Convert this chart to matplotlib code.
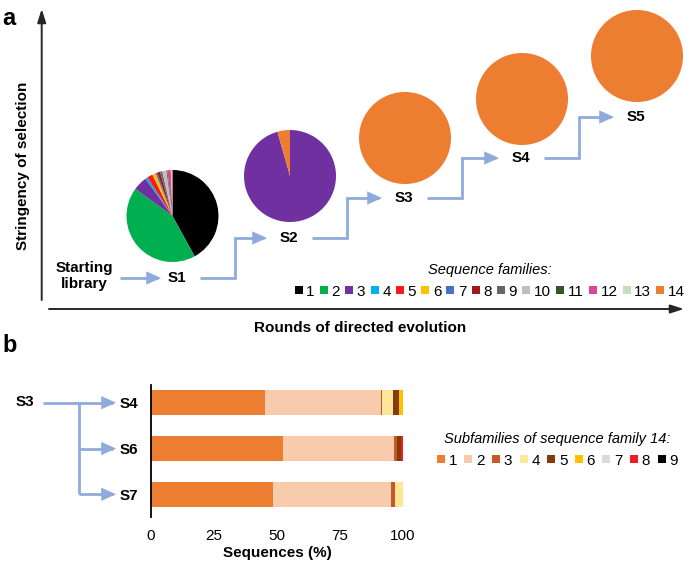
import matplotlib
matplotlib.use('Agg')
import matplotlib.pyplot as plt
from matplotlib.patches import FancyArrowPatch
from matplotlib.path import Path
from matplotlib.lines import Line2D

plt.rcParams['font.family'] = ['Liberation Sans', 'DejaVu Sans']

W, H = 685, 566

# ---------------- data ----------------
family_labels = ['1', '2', '3', '4', '5', '6', '7', '8', '9', '10', '11', '12', '13', '14']
family_colors = ['#000000', '#00B050', '#7030A0', '#00B0F0', '#FF1A1A', '#FFC000', '#4472C4',
                 '#A0181C', '#666666', '#BFBFBF', '#375623', '#D9449C', '#C5E0B4', '#ED7D31']
stage_names = ['S1', 'S2', 'S3', 'S4', 'S5']
s1_share = [42.0, 43.0, 5.0, 0.8, 2.0, 1.2, 0.6, 1.0, 0.8, 1.5, 0.3, 1.2, 0.3, 0.3]
s2_share = [0, 0, 95.6, 0, 0, 0, 0, 0, 0, 0, 0, 0, 0, 4.4]
s3_share = [0, 0, 0, 0, 0, 0, 0, 0, 0, 0, 0, 0, 0, 100]
s4_share = [0, 0, 0, 0, 0, 0, 0, 0, 0, 0, 0, 0, 0, 100]
s5_share = [0, 0, 0, 0, 0, 0, 0, 0, 0, 0, 0, 0, 0, 100]

bar_rows = ['S4', 'S6', 'S7']
sub_labels = ['1', '2', '3', '4', '5', '6', '7', '8', '9']
sub_colors = ['#ED7D31', '#F8CBAD', '#C55A28', '#FFE699', '#843C0C', '#FFC000', '#D9D9D9', '#EE1C25', '#000000']
sub1 = [45.4, 52.4, 48.3]
sub2 = [45.7, 44.2, 46.9]
sub3 = [0.7, 0.9, 1.7]
sub4 = [4.4, 0.0, 3.1]
sub5 = [2.3, 1.8, 0.0]
sub6 = [1.5, 0.0, 0.0]
sub7 = [0.0, 0.0, 0.0]
sub8 = [0.0, 0.7, 0.0]
sub9 = [0.0, 0.0, 0.0]
x_ticks = [0, 25, 50, 75, 100]

# ---------------- layout ----------------
fig = plt.figure(figsize=(W / 100, H / 100), dpi=100)
ax0 = fig.add_axes([0, 0, 1, 1])

def Y(py):
    return H - py

BLUE = '#8FAADC'
AXC = '#262626'

pie_centers = [(172.5, 216), (290, 176), (405, 138), (522, 99), (637, 56)]
label_pos = [(177, 278), (289, 238), (404, 198), (521, 158), (636, 117)]
shares = [s1_share, s2_share, s3_share, s4_share, s5_share]

for vals, (cx, cy) in zip(shares, pie_centers):
    ax0.pie(vals, colors=family_colors, startangle=90, counterclock=False,
            center=(cx, Y(cy)), radius=46, wedgeprops=dict(linewidth=0), frame=True)

for name, (lx, ly) in zip(stage_names, label_pos):
    ax0.text(lx, Y(ly), name, ha='center', va='center', fontsize=11, fontweight='bold')

ax0.text(84, Y(276), 'Starting\nlibrary', ha='center', va='center', fontsize=11,
         fontweight='bold', linespacing=1.1)

def blue_arrow(pts):
    p = Path([(x, Y(y)) for x, y in pts])
    a = FancyArrowPatch(path=p, arrowstyle='-|>,head_length=0.4,head_width=0.18',
                        mutation_scale=18, lw=2.0, color=BLUE, joinstyle='miter',
                        capstyle='butt')
    ax0.add_patch(a)

blue_arrow([(120, 278), (161, 278)])
for i in range(4):
    lx, ly = label_pos[i]
    nx, ny = label_pos[i + 1]
    blue_arrow([(lx + 23, ly), (lx + 58, ly), (lx + 58, ny), (nx - 22, ny)])

# axes arrows of panel a
ax0.add_patch(FancyArrowPatch((41.7, Y(300)), (41.7, Y(9)), arrowstyle='-|>,head_length=0.5,head_width=0.16',
                              mutation_scale=16, lw=1.4, color=AXC, shrinkA=0, shrinkB=0))
ax0.add_patch(FancyArrowPatch((49, Y(309)), (684, Y(309)), arrowstyle='-|>,head_length=0.5,head_width=0.16',
                              mutation_scale=16, lw=1.4, color=AXC, shrinkA=0, shrinkB=0))
ax0.text(23, Y(166), 'Stringency of selection', rotation=90, ha='center', va='center',
         fontsize=11, fontweight='bold')
ax0.text(360, Y(328), 'Rounds of directed evolution', ha='center', va='center',
         fontsize=11, fontweight='bold')
ax0.text(2, Y(25), 'a', ha='left', va='baseline', fontsize=17, fontweight='bold')
ax0.text(2, Y(352), 'b', ha='left', va='baseline', fontsize=17, fontweight='bold')

# panel b tree
ax0.text(25, Y(402), 'S3', ha='center', va='center', fontsize=11, fontweight='bold')
row_py = [402.7, 448.5, 494.3]
ax0.plot([79, 79], [Y(row_py[0]), Y(row_py[2])], color=BLUE, lw=2.0, solid_capstyle='butt')
blue_arrow([(43, row_py[0]), (116, row_py[0])])
blue_arrow([(79, row_py[1]), (116, row_py[1])])
blue_arrow([(79, row_py[2]), (116, row_py[2])])

# legend of families
fam_handles = [Line2D([], [], marker='s', linestyle='None', markersize=5.3,
                      markerfacecolor=c, markeredgewidth=0) for c in family_colors]
fig.legend(fam_handles, family_labels, ncol=14, loc='upper right',
           bbox_to_anchor=(685, Y(263)), bbox_transform=ax0.transData, frameon=False,
           fontsize=11, title='Sequence families:',
           title_fontproperties={'style': 'italic', 'size': 10.5},
           handlelength=0.6, handletextpad=0.2, columnspacing=0.3,
           borderpad=0, borderaxespad=0)

sub_handles = [Line2D([], [], marker='s', linestyle='None', markersize=5.3,
                      markerfacecolor=c, markeredgewidth=0) for c in sub_colors]
fig.legend(sub_handles, sub_labels, ncol=9, loc='upper center',
           bbox_to_anchor=(557, Y(432)), bbox_transform=ax0.transData, frameon=False,
           fontsize=11, title='Subfamilies of sequence family 14:',
           title_fontproperties={'style': 'italic', 'size': 10.5},
           handlelength=0.6, handletextpad=0.2, columnspacing=0.45,
           borderpad=0, borderaxespad=0)

ax0.set_xlim(0, W)
ax0.set_ylim(0, H)
ax0.set_aspect('equal')
ax0.set_axis_off()

# bar chart
axb = fig.add_axes([151 / W, 1 - 517 / H, 252 / W, 132 / H])
ypos = list(range(len(bar_rows)))
left = [0.0] * len(bar_rows)
for vals, c in zip([sub1, sub2, sub3, sub4, sub5, sub6, sub7, sub8, sub9], sub_colors):
    axb.barh(ypos, vals, left=left, height=0.55, color=c, linewidth=0)
    left = [l + v for l, v in zip(left, vals)]
axb.set_xlim(0, 100)
axb.set_ylim(2.49, -0.385)
axb.set_yticks(ypos)
axb.set_yticklabels(bar_rows, fontsize=11, fontweight='bold')
axb.set_xticks(x_ticks)
axb.set_xticklabels([str(t) for t in x_ticks], fontsize=11)
axb.tick_params(axis='both', length=0)
axb.tick_params(axis='y', pad=9)
axb.tick_params(axis='x', pad=9)
for s in ['top', 'right', 'bottom']:
    axb.spines[s].set_visible(False)
axb.spines['left'].set_linewidth(1.3)
axb.spines['left'].set_color('#000000')
axb.set_xlabel('Sequences (%)', fontsize=11, fontweight='bold', labelpad=2)
axb.patch.set_alpha(0)

fig.savefig('out.png', dpi=100)
